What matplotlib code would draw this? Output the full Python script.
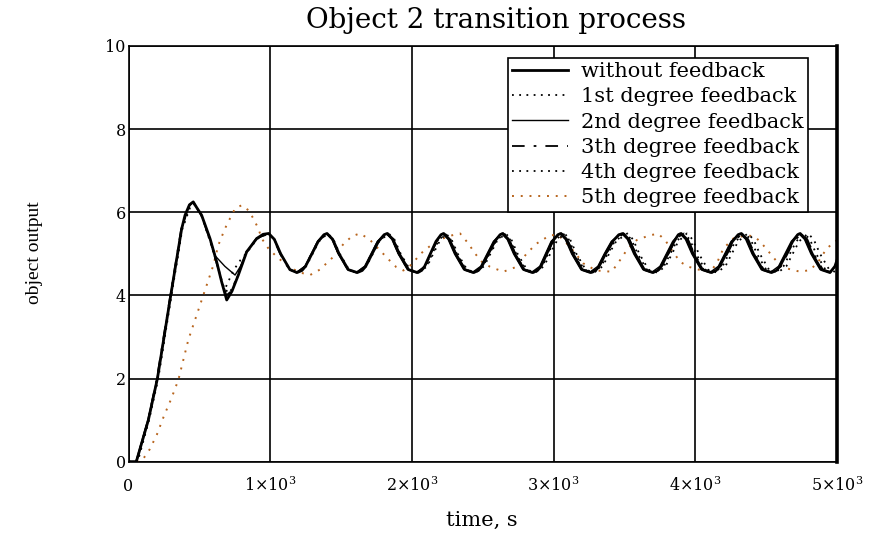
import matplotlib
matplotlib.use("Agg")
import matplotlib.pyplot as plt
from matplotlib.ticker import FixedLocator, FixedFormatter

plt.rcParams['font.family'] = ['DejaVu Serif']
plt.rcParams['mathtext.fontset'] = 'dejavuserif'

# ---- data (time in s, object output) ----
t_without = [0, 55, 140, 204, 298, 375, 399, 430, 457, 480, 516, 575, 622, 657, 693, 730, 775, 834, 905, 950, 989,
             1029, 1074, 1139, 1189, 1224, 1249, 1294, 1339, 1379, 1401,
             1441, 1486, 1551, 1614, 1649, 1674, 1719, 1764, 1804, 1826,
             1866, 1911, 1976, 2038, 2068, 2090, 2130, 2170, 2205, 2224,
             2264, 2309, 2374, 2434, 2469, 2494, 2539, 2584, 2622, 2641,
             2681, 2726, 2791, 2851, 2886, 2911, 2951, 2991, 3030, 3051,
             3091, 3136, 3201, 3261, 3296, 3321, 3366, 3416, 3460, 3490,
             3530, 3575, 3640, 3700, 3735, 3760, 3805, 3850, 3880, 3900,
             3940, 3985, 4050, 4112, 4147, 4172, 4217, 4262, 4302, 4325,
             4365, 4410, 4475, 4537, 4572, 4597, 4642, 4687, 4722, 4740,
             4780, 4825, 4890, 4950, 4985, 5000]
y_without = [0, 0, 1.0, 2.0, 4.0, 5.6, 5.93, 6.18, 6.25, 6.12, 5.93, 5.37, 4.81, 4.33, 3.89, 4.1, 4.49, 5.05, 5.37, 5.47, 5.49,
             5.35, 5.0, 4.62, 4.55, 4.6, 4.7, 5.0, 5.3, 5.46, 5.49,
             5.35, 5.0, 4.62, 4.55, 4.6, 4.7, 5.0, 5.3, 5.46, 5.49,
             5.35, 5.0, 4.62, 4.55, 4.6, 4.7, 5.0, 5.3, 5.46, 5.49,
             5.35, 5.0, 4.62, 4.55, 4.6, 4.7, 5.0, 5.3, 5.46, 5.49,
             5.35, 5.0, 4.62, 4.55, 4.6, 4.7, 5.0, 5.3, 5.46, 5.49,
             5.35, 5.0, 4.62, 4.55, 4.6, 4.7, 5.0, 5.3, 5.46, 5.49,
             5.35, 5.0, 4.62, 4.55, 4.6, 4.7, 5.0, 5.3, 5.46, 5.49,
             5.35, 5.0, 4.62, 4.55, 4.6, 4.7, 5.0, 5.3, 5.46, 5.49,
             5.35, 5.0, 4.62, 4.55, 4.6, 4.7, 5.0, 5.3, 5.46, 5.49,
             5.35, 5.0, 4.62, 4.55, 4.7, 4.85]

t_1st = [0, 60, 140, 206, 300, 378, 432, 460, 518, 578, 625, 665, 705, 740, 780, 836, 905, 989,
         1029, 1074, 1139, 1189, 1249, 1294, 1339, 1401,
         1441, 1486, 1551, 1614, 1674, 1719, 1764, 1831,
         1871, 1916, 1981, 2043, 2103, 2143, 2185, 2232,
         2272, 2317, 2382, 2442, 2502, 2547, 2592, 2651,
         2691, 2736, 2801, 2861, 2921, 2961, 3003, 3066,
         3106, 3151, 3216, 3276, 3336, 3381, 3431, 3508,
         3548, 3593, 3658, 3718, 3778, 3823, 3868, 3920,
         3960, 4005, 4070, 4132, 4192, 4237, 4282, 4350,
         4390, 4435, 4500, 4562, 4622, 4667, 4712, 4768,
         4808, 4853, 4918, 4989, 5000]
y_1st = [0, 0, 1.0, 2.0, 4.0, 5.6, 6.15, 6.22, 5.9, 5.3, 4.75, 4.25, 4.05, 4.2, 4.55, 5.05, 5.37, 5.49,
         5.35, 5.0, 4.62, 4.55, 4.7, 5.0, 5.3, 5.49,
         5.35, 5.0, 4.62, 4.55, 4.7, 5.0, 5.3, 5.49,
         5.35, 5.0, 4.62, 4.55, 4.7, 5.0, 5.3, 5.49,
         5.35, 5.0, 4.62, 4.55, 4.7, 5.0, 5.3, 5.49,
         5.35, 5.0, 4.62, 4.55, 4.7, 5.0, 5.3, 5.49,
         5.35, 5.0, 4.62, 4.55, 4.7, 5.0, 5.3, 5.49,
         5.35, 5.0, 4.62, 4.55, 4.7, 5.0, 5.3, 5.49,
         5.35, 5.0, 4.62, 4.55, 4.7, 5.0, 5.3, 5.49,
         5.35, 5.0, 4.62, 4.55, 4.7, 5.0, 5.3, 5.49,
         5.35, 5.0, 4.62, 4.55, 4.58]

t_2nd = [0, 52, 136, 202, 296, 374, 430, 456, 515, 575, 612, 680, 752, 790, 834, 905, 989,
         1029, 1074, 1139, 1185, 1245, 1290, 1335, 1395,
         1435, 1480, 1545, 1606, 1666, 1711, 1756, 1818,
         1858, 1903, 1968, 2030, 2090, 2130, 2170, 2215,
         2255, 2300, 2365, 2425, 2485, 2530, 2575, 2632,
         2672, 2717, 2782, 2842, 2902, 2942, 2982, 3042,
         3082, 3127, 3192, 3252, 3312, 3357, 3407, 3480,
         3520, 3565, 3630, 3690, 3750, 3795, 3840, 3890,
         3930, 3975, 4040, 4102, 4162, 4207, 4252, 4315,
         4355, 4400, 4465, 4527, 4587, 4632, 4677, 4730,
         4770, 4815, 4880, 4951, 5000]
y_2nd = [0, 0, 1.0, 2.0, 4.0, 5.6, 6.18, 6.25, 5.93, 5.37, 4.95, 4.7, 4.49, 4.7, 5.05, 5.37, 5.49,
         5.35, 5.0, 4.62, 4.55, 4.7, 5.0, 5.3, 5.49,
         5.35, 5.0, 4.62, 4.55, 4.7, 5.0, 5.3, 5.49,
         5.35, 5.0, 4.62, 4.55, 4.7, 5.0, 5.3, 5.49,
         5.35, 5.0, 4.62, 4.55, 4.7, 5.0, 5.3, 5.49,
         5.35, 5.0, 4.62, 4.55, 4.7, 5.0, 5.3, 5.49,
         5.35, 5.0, 4.62, 4.55, 4.7, 5.0, 5.3, 5.49,
         5.35, 5.0, 4.62, 4.55, 4.7, 5.0, 5.3, 5.49,
         5.35, 5.0, 4.62, 4.55, 4.7, 5.0, 5.3, 5.49,
         5.35, 5.0, 4.62, 4.55, 4.7, 5.0, 5.3, 5.49,
         5.35, 5.0, 4.62, 4.55, 4.75]

t_3th = [0, 55, 138, 200, 295, 372, 428, 455, 515, 574, 620, 650, 690, 725, 772, 832, 903, 985,
         1025, 1070, 1135, 1186, 1246, 1291, 1336, 1398,
         1438, 1483, 1548, 1610, 1670, 1715, 1760, 1822,
         1862, 1907, 1972, 2035, 2095, 2135, 2175, 2224,
         2264, 2309, 2374, 2436, 2496, 2541, 2586, 2645,
         2685, 2730, 2795, 2855, 2915, 2955, 2995, 3056,
         3096, 3141, 3206, 3266, 3326, 3371, 3421, 3495,
         3535, 3580, 3645, 3705, 3765, 3810, 3855, 3908,
         3948, 3993, 4058, 4120, 4180, 4225, 4270, 4333,
         4373, 4418, 4483, 4545, 4605, 4650, 4695, 4750,
         4790, 4835, 4900, 4970, 5000]
y_3th = [0, 0, 1.0, 2.0, 4.0, 5.6, 6.15, 6.25, 5.92, 5.35, 4.8, 4.45, 4.0, 4.1, 4.5, 5.05, 5.37, 5.49,
         5.35, 5.0, 4.62, 4.55, 4.7, 5.0, 5.3, 5.49,
         5.35, 5.0, 4.62, 4.55, 4.7, 5.0, 5.3, 5.49,
         5.35, 5.0, 4.62, 4.55, 4.7, 5.0, 5.3, 5.49,
         5.35, 5.0, 4.62, 4.55, 4.7, 5.0, 5.3, 5.49,
         5.35, 5.0, 4.62, 4.55, 4.7, 5.0, 5.3, 5.49,
         5.35, 5.0, 4.62, 4.55, 4.7, 5.0, 5.3, 5.49,
         5.35, 5.0, 4.62, 4.55, 4.7, 5.0, 5.3, 5.49,
         5.35, 5.0, 4.62, 4.55, 4.7, 5.0, 5.3, 5.49,
         5.35, 5.0, 4.62, 4.55, 4.7, 5.0, 5.3, 5.49,
         5.35, 5.0, 4.62, 4.55, 4.62]

t_4th = [0, 65, 145, 210, 303, 380, 435, 462, 520, 580, 630, 662, 680, 700, 740, 790, 840, 908, 989,
         1029, 1074, 1139, 1194, 1254, 1299, 1344, 1406,
         1446, 1491, 1556, 1619, 1679, 1724, 1769, 1836,
         1876, 1921, 1986, 2048, 2108, 2150, 2195, 2239,
         2279, 2324, 2389, 2449, 2509, 2554, 2599, 2661,
         2701, 2746, 2811, 2871, 2931, 2976, 3021, 3076,
         3116, 3161, 3226, 3286, 3346, 3391, 3441, 3520,
         3560, 3605, 3670, 3730, 3790, 3835, 3880, 3940,
         3980, 4025, 4090, 4152, 4212, 4257, 4302, 4370,
         4410, 4455, 4520, 4582, 4642, 4687, 4732, 4795,
         4835, 4880, 4945, 5000]
y_4th = [0, 0, 1.0, 2.0, 4.0, 5.6, 6.12, 6.2, 5.88, 5.25, 4.7, 4.3, 4.15, 4.3, 4.6, 4.85, 5.05, 5.36, 5.49,
         5.35, 5.0, 4.62, 4.55, 4.7, 5.0, 5.3, 5.49,
         5.35, 5.0, 4.62, 4.55, 4.7, 5.0, 5.3, 5.49,
         5.35, 5.0, 4.62, 4.55, 4.7, 5.0, 5.3, 5.49,
         5.35, 5.0, 4.62, 4.55, 4.7, 5.0, 5.3, 5.49,
         5.35, 5.0, 4.62, 4.55, 4.7, 5.0, 5.3, 5.49,
         5.35, 5.0, 4.62, 4.55, 4.7, 5.0, 5.3, 5.49,
         5.35, 5.0, 4.62, 4.55, 4.7, 5.0, 5.3, 5.49,
         5.35, 5.0, 4.62, 4.55, 4.7, 5.0, 5.3, 5.49,
         5.35, 5.0, 4.62, 4.55, 4.7, 5.0, 5.3, 5.49,
         5.35, 5.0, 4.62, 4.55]

t_5th = [0, 90, 150, 200, 250, 300, 352, 422, 493, 552, 599, 634, 681, 716, 752, 799, 846, 881, 916, 940,
         987, 1046, 1116, 1200, 1281, 1350, 1446, 1520, 1580, 1634, 1700, 1770, 1840, 1890, 1940, 2000,
         2060, 2150, 2250, 2340, 2398, 2445, 2493, 2551, 2645, 2740, 2810, 2881, 2975, 3033, 3116, 3210,
         3300, 3410, 3469, 3516, 3586, 3680, 3739, 3787, 3834, 3892, 3951, 4035, 4105, 4151, 4198, 4269,
         4363, 4422, 4469, 4528, 4586, 4645, 4739, 4810, 4868, 4927, 5000]
y_5th = [0, 0, 0.3, 0.65, 1.1, 1.5, 1.97, 2.93, 3.65, 4.25, 4.73, 5.21, 5.61, 5.85, 6.09, 6.17, 6.05, 5.85, 5.61, 5.37,
         5.13, 4.93, 4.73, 4.56, 4.49, 4.62, 4.93, 5.25, 5.43, 5.49, 5.35, 5.1, 4.85, 4.68, 4.6, 4.75,
         5.0, 5.25, 5.42, 5.49, 5.25, 5.01, 4.81, 4.69, 4.57, 4.69, 5.01, 5.25, 5.45, 5.45, 5.17, 4.77,
         4.6, 4.57, 4.85, 5.09, 5.33, 5.45, 5.48, 5.33, 5.09, 4.81, 4.69, 4.61, 4.57, 4.77, 5.13, 5.37,
         5.45, 5.41, 5.25, 5.01, 4.77, 4.65, 4.57, 4.61, 4.81, 5.13, 5.33]

labels = ['without feedback', '1st degree feedback', '2nd degree feedback',
          '3th degree feedback', '4th degree feedback', '5th degree feedback']
x_ticks = [0, 1000, 2000, 3000, 4000, 5000]
x_tick_labels = ['0', r'$1{\times}10^{3}$', r'$2{\times}10^{3}$', r'$3{\times}10^{3}$',
                 r'$4{\times}10^{3}$', r'$5{\times}10^{3}$']
y_ticks = [0, 2, 4, 6, 8, 10]

fig = plt.figure(figsize=(8.73, 5.36), dpi=100)
ax = fig.add_axes([0.1472, 0.1386, 0.8116, 0.7756])

ax.plot(t_5th, y_5th, color='#b8651e', lw=1.4, ls=(0, (1, 3.5)), label=labels[5], zorder=2)
ax.plot(t_4th, y_4th, color='black', lw=1.3, ls=(0, (1, 3)), label=labels[4], zorder=3)
ax.plot(t_3th, y_3th, color='black', lw=1.3, ls=(0, (7, 5, 1.5, 5)), label=labels[3], zorder=3)
ax.plot(t_2nd, y_2nd, color='black', lw=1.0, ls='-', label=labels[2], zorder=3)
ax.plot(t_1st, y_1st, color='black', lw=1.3, ls=(0, (1, 3)), label=labels[1], zorder=3)
ax.plot(t_without, y_without, color='black', lw=2.0, ls='-', label=labels[0], zorder=4)

ax.set_xlim(0, 5000)
ax.set_ylim(0, 10)
ax.xaxis.set_major_locator(FixedLocator(x_ticks))
ax.xaxis.set_major_formatter(FixedFormatter(x_tick_labels))
ax.yaxis.set_major_locator(FixedLocator(y_ticks))
ax.grid(True, color='black', lw=1.2)
ax.tick_params(axis='both', length=0, labelsize=11.5)
ax.tick_params(axis='x', pad=21)
ax.tick_params(axis='y', pad=2)
for lab in ax.get_xticklabels():
    lab.set_verticalalignment('baseline')
for side in ['left', 'top', 'bottom']:
    ax.spines[side].set_linewidth(1.2)
ax.spines['right'].set_linewidth(2.6)

ax.set_title('Object 2 transition process', fontsize=20, pad=13, x=0.519)
ax.set_xlabel('time, s', fontsize=15)
ax.xaxis.set_label_coords(0.499, -0.1186)
ax.set_ylabel('object output', fontsize=14, family='Liberation Serif')
ax.yaxis.set_label_coords(-0.1207, 0.504)

handles, labs = ax.get_legend_handles_labels()
order = [5, 4, 3, 2, 1, 0]
leg = ax.legend([handles[i] for i in order], [labs[i] for i in order],
                loc='upper left', bbox_to_anchor=(0.5356, 0.971), fontsize=15,
                frameon=True, fancybox=False, edgecolor='black', framealpha=1,
                handlelength=2.7, handletextpad=0.6, labelspacing=0.3,
                borderpad=0.2, borderaxespad=0)
leg.get_frame().set_linewidth(1.2)

fig.savefig('out.png', dpi=100)
